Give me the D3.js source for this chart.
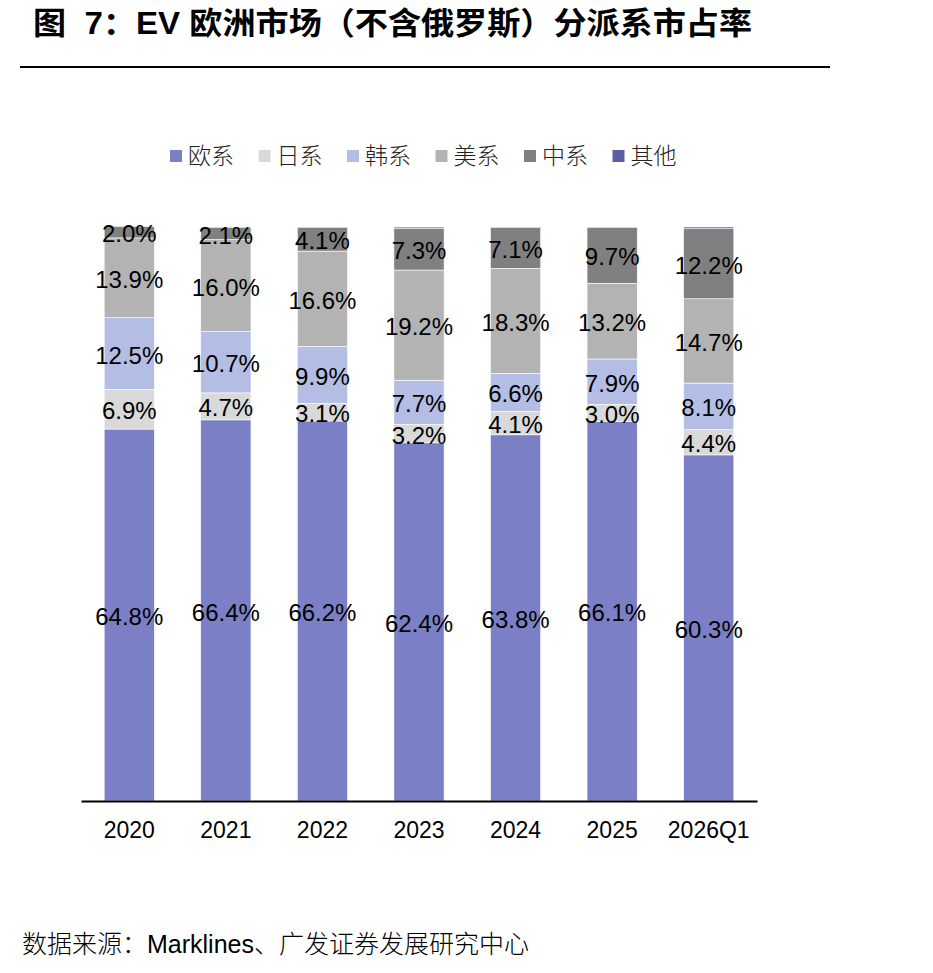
<!DOCTYPE html>
<html>
<head>
<meta charset="utf-8">
<script src="https://cdn.jsdelivr.net/npm/d3@7"></script>
<style>
  body { margin: 0; background: #fff; }
  svg text { font-family: "Liberation Sans", Arial, "Noto Sans CJK SC", sans-serif; }
</style>
</head>
<body>
<svg id="chart" width="933" height="973"></svg>
<script>
// Categories and series (percent share, bottom to top)
const years   = ['2020', '2021', '2022', '2023', '2024', '2025', '2026Q1'];
const series  = ['欧系', '日系', '韩系', '美系', '中系', '其他'];
const euro    = [64.8, 66.4, 66.2, 62.4, 63.8, 66.1, 60.3];
const japan   = [6.9, 4.7, 3.1, 3.2, 4.1, 3.0, 4.4];
const korea   = [12.5, 10.7, 9.9, 7.7, 6.6, 7.9, 8.1];
const usa     = [13.9, 16.0, 16.6, 19.2, 18.3, 13.2, 14.7];
const china   = [2.0, 2.1, 4.1, 7.3, 7.1, 9.7, 12.2];
const other   = [0.0, 0.1, 0.1, 0.2, 0.1, 0.1, 0.3];
const colors  = ['#7b80c6', '#d9d9d9', '#b4bde3', '#b3b3b3', '#808080', '#5b5ea6'];
const showLabel = [true, true, true, true, true, false];

const values = [euro, japan, korea, usa, china, other];

// Build rows for d3.stack
const rows = years.map((y, i) => {
    let r = {year: y};
    series.forEach((s, k) => r[s] = values[k][i]);
    return r;
});

const svg = d3.select('#chart');

// Title and rule
svg.append('text')
   .attr('x', 33).attr('y', 34)
   .attr('font-size', 31).attr('font-weight', 'bold')
   .attr('textLength', 719).attr('lengthAdjust', 'spacingAndGlyphs')
   .style('white-space', 'pre')
   .text('图  7：EV 欧洲市场（不含俄罗斯）分派系市占率');

svg.append('line')
   .attr('x1', 20).attr('x2', 830).attr('y1', 67).attr('y2', 67)
   .attr('stroke', '#000').attr('stroke-width', 2);

// Scales
const xScale = d3.scaleBand().domain(years).range([81, 757]).paddingInner(0.48).paddingOuter(0.24);
const yScale = d3.scaleLinear().domain([0, 100]).range([801, 227]);

const stack = d3.stack().keys(series)(rows);

const layers = svg.append('g').selectAll('g')
    .data(stack).enter()
    .append('g')
    .attr('fill', (d, i) => colors[i]);

layers.selectAll('rect')
    .data(d => d).enter()
    .append('rect')
    .attr('x', d => xScale(d.data.year))
    .attr('width', xScale.bandwidth())
    .attr('y', d => yScale(d[1]))
    .attr('height', d => Math.max(0, yScale(d[0]) - yScale(d[1])))
    .attr('stroke', '#fff').attr('stroke-width', 0.6);

// Value labels
stack.forEach((layer, k) => {
    if (!showLabel[k]) return;
    svg.append('g').selectAll('text')
       .data(layer).enter()
       .append('text')
       .attr('x', d => xScale(d.data.year) + xScale.bandwidth() / 2)
       .attr('y', d => yScale((d[0] + d[1]) / 2))
       .attr('dy', '0.42em')
       .attr('text-anchor', 'middle')
       .attr('font-size', 24)
       .attr('fill', '#000')
       .text(d => (d[1] - d[0]).toFixed(1) + '%');
});

// X axis
const xAxis = d3.axisBottom(xScale).tickSize(0).tickPadding(21);
const gx = svg.append('g')
    .attr('transform', `translate(0, ${yScale(0)})`)
    .call(xAxis);
gx.select('.domain').attr('stroke', '#000').attr('stroke-width', 2);
gx.selectAll('text').attr('font-size', 23).attr('fill', '#000')
  .style('font-family', '"Liberation Sans", Arial, sans-serif');

// Legend
const legend = svg.append('g').attr('transform', 'translate(170, 156)');
const item = legend.selectAll('g')
    .data(series).enter()
    .append('g')
    .attr('transform', (d, i) => `translate(${i * 88.5}, 0)`);
item.append('rect')
    .attr('x', 0).attr('y', -6).attr('width', 12).attr('height', 12)
    .attr('fill', (d, i) => colors[i]);
item.append('text')
    .attr('x', 18).attr('y', 0).attr('dy', '0.36em')
    .attr('font-size', 23).attr('fill', '#222')
    .style('font-family', '"Noto Sans CJK SC", sans-serif')
    .style('font-weight', 300)
    .text(d => d);

// Source
svg.append('text')
   .attr('x', 22).attr('y', 953)
   .attr('font-size', 25).attr('fill', '#000')
   .style('font-weight', 300)
   .text('数据来源：Marklines、广发证券发展研究中心');
</script>
</body>
</html>
